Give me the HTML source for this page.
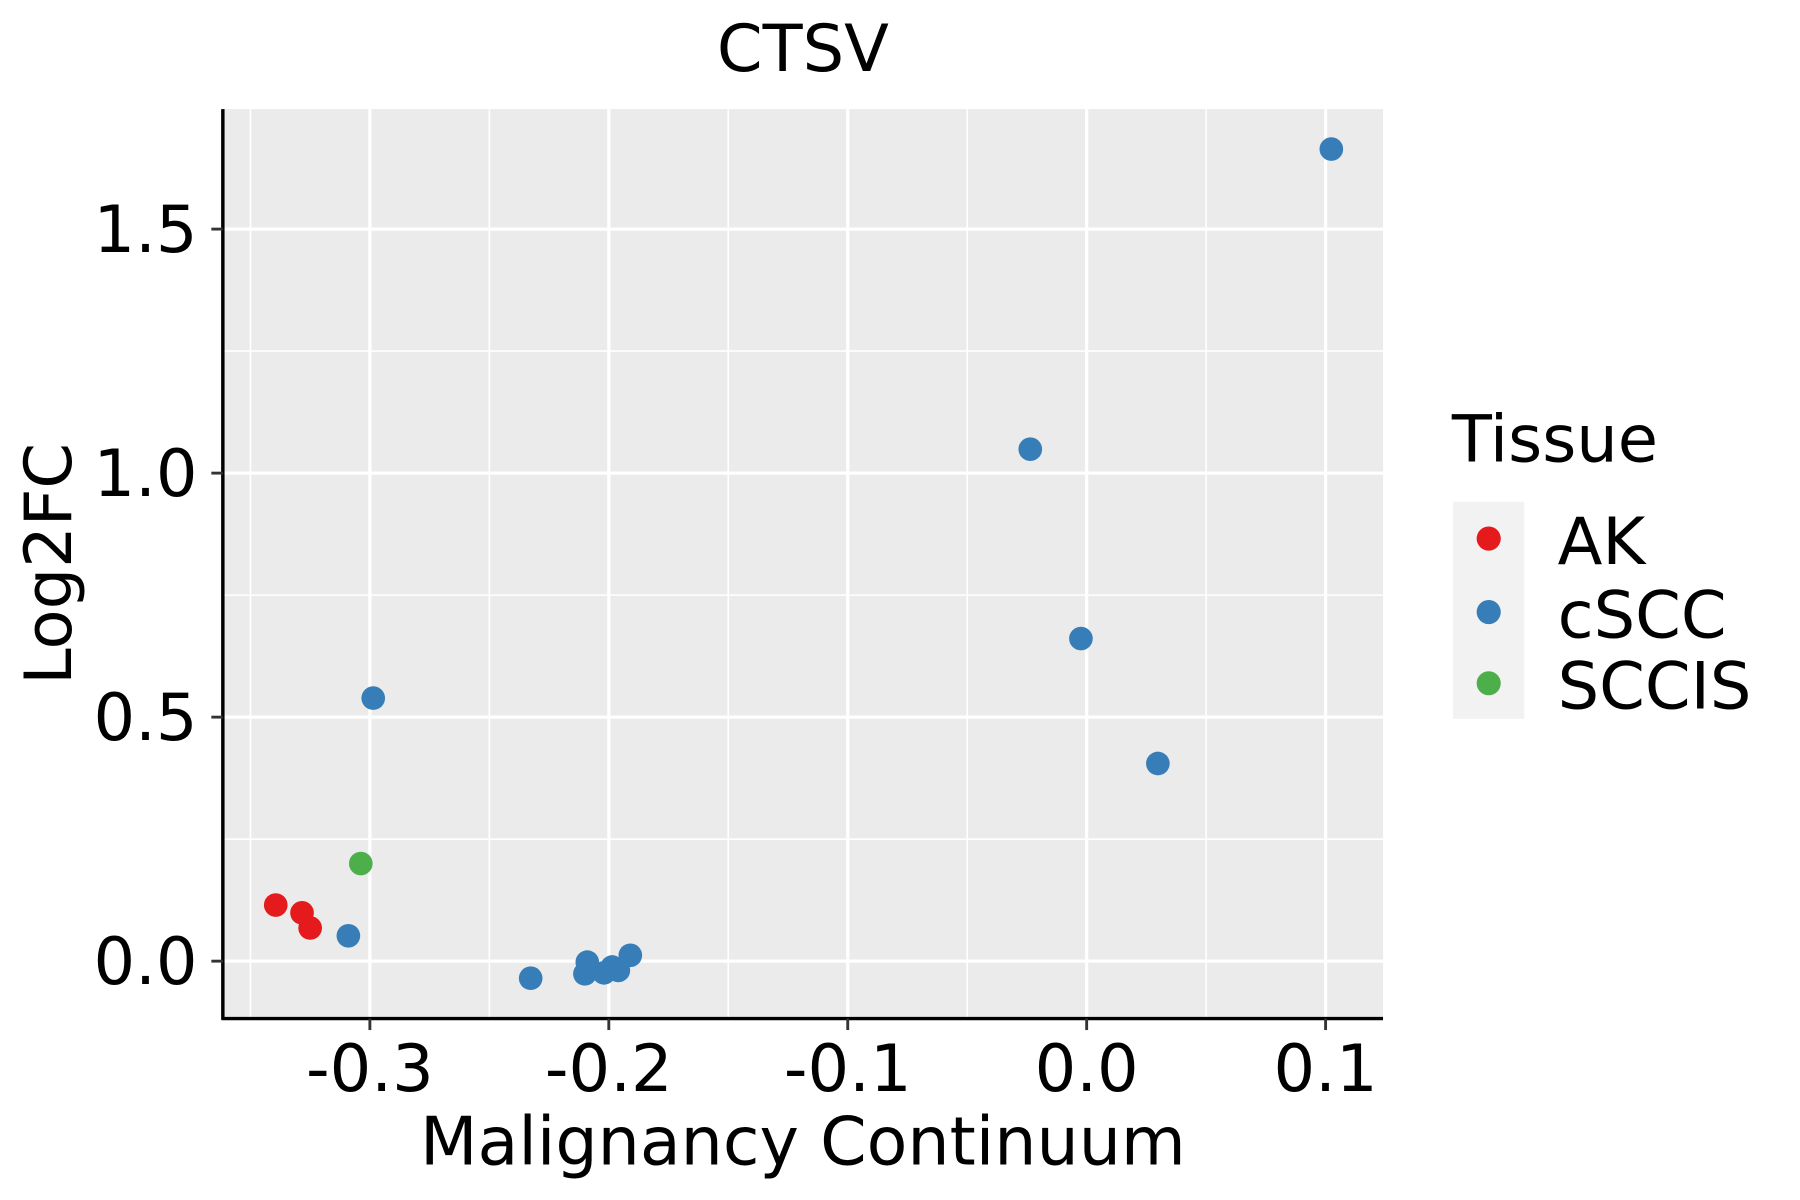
<!DOCTYPE html>
<html><head><meta charset="utf-8"><style>html,body{margin:0;padding:0;background:#fff}svg{display:block}text{font-family:"DejaVu Sans","Liberation Sans",sans-serif}</style></head>
<body>
<svg id="chart" width="1800" height="1200" viewBox="0 0 1567 1045" preserveAspectRatio="none" xmlns="http://www.w3.org/2000/svg">
<rect width="1567" height="1045" fill="#fff"/>
<rect x="194" y="95" width="1010" height="792" fill="#ebebeb"/>
<g id="grid"></g>
<g id="points"></g>
<line x1="194" y1="95" x2="194" y2="888" stroke="#000" stroke-width="3"/>
<line x1="193" y1="887" x2="1204" y2="887" stroke="#000" stroke-width="3"/>
<g id="axes"></g>
<text x="699" y="62" font-size="57" text-anchor="middle">CTSV</text>
<text x="699" y="1014" font-size="58" text-anchor="middle">Malignancy Continuum</text>
<text x="0" y="0" transform="translate(62,491) rotate(-90)" font-size="57" text-anchor="middle">Log2FC</text>
<g>
<text x="1264" y="402" font-size="57">Tissue</text>
<rect x="1265" y="437" width="62" height="189" fill="#f2f2f2"/>
<circle cx="1296" cy="469" r="10.5" fill="#e41a1c"/>
<circle cx="1296" cy="533" r="10.5" fill="#377eb8"/>
<circle cx="1296" cy="595" r="10.5" fill="#4daf4a"/>
<text x="1356" y="491" font-size="57">AK</text>
<text x="1356" y="555" font-size="57">cSCC</text>
<text x="1356" y="617" font-size="57">SCCIS</text>
</g>
</svg>
<script>
const xTicks = [-0.3, -0.2, -0.1, 0.0, 0.1];
const xTickLabels = ["-0.3", "-0.2", "-0.1", "0.0", "0.1"];
const yTicks = [0, 0.5, 1.0, 1.5];
const yTickLabels = ["0.0", "0.5", "1.0", "1.5"];
const tissue = ["AK","AK","AK","SCCIS","cSCC","cSCC","cSCC","cSCC","cSCC","cSCC","cSCC","cSCC","cSCC","cSCC","cSCC","cSCC","cSCC"];
const xVals = [-0.3394,-0.3284,-0.325,-0.3038,-0.2986,-0.309,-0.2327,-0.209,-0.21,-0.202,-0.1986,-0.196,-0.191,-0.0236,-0.0024,0.0298,0.1024];
const yVals = [0.115,0.099,0.068,0.2,0.539,0.052,-0.035,-0.002,-0.026,-0.024,-0.012,-0.019,0.012,1.049,0.661,0.405,1.664];
const colors = {AK:"#e41a1c", cSCC:"#377eb8", SCCIS:"#4daf4a"};
const NS="http://www.w3.org/2000/svg";
function sx(v){return 946 + v*2080;}
function sy(v){return 837 - v*425;}
function mk(t,a,p){const e=document.createElementNS(NS,t);for(const k in a)e.setAttribute(k,a[k]);p.appendChild(e);return e;}
const grid=document.getElementById('grid'), axes=document.getElementById('axes'), pts=document.getElementById('points');
for(let i=0;i<xTicks.length;i++){
  const x=sx(xTicks[i]);
  const g=mk('line',{x1:x,y1:95,x2:x,y2:887,stroke:'#fff','stroke-width':2.8},grid);
  
  
  const m=sx(xTicks[i]-0.05);
  const gm=mk('line',{x1:m,y1:95,x2:m,y2:887,stroke:'#fff','stroke-width':1.4},grid);
  
  
  const tk=mk('line',{x1:x,y1:887,x2:x,y2:897,stroke:'#333','stroke-width':2.5},axes);
  
  
  const tl=mk('text',{x:x,y:950,'font-size':57,'text-anchor':'middle'},axes);
  tl.textContent=xTickLabels[i];
  
  
}
for(let i=0;i<yTicks.length;i++){
  const y=sy(yTicks[i]);
  const g=mk('line',{x1:194,y1:y,x2:1204,y2:y,stroke:'#fff','stroke-width':2.8},grid);
  
  
  const m=sy(yTicks[i]+0.25);
  const gm=mk('line',{x1:194,y1:m,x2:1204,y2:m,stroke:'#fff','stroke-width':1.4},grid);
  
  
  const tk=mk('line',{x1:184,y1:y,x2:194,y2:y,stroke:'#333','stroke-width':2.5},axes);
  
  
  const tl=mk('text',{x:172,y:y+20,'font-size':57,'text-anchor':'end'},axes);
  tl.textContent=yTickLabels[i];
  
  
}
for(let i=0;i<xVals.length;i++){
  const c=mk('circle',{cx:sx(xVals[i]),cy:sy(yVals[i]),r:10.3,fill:colors[tissue[i]]},pts);
  
  
}
</script>
</body></html>
